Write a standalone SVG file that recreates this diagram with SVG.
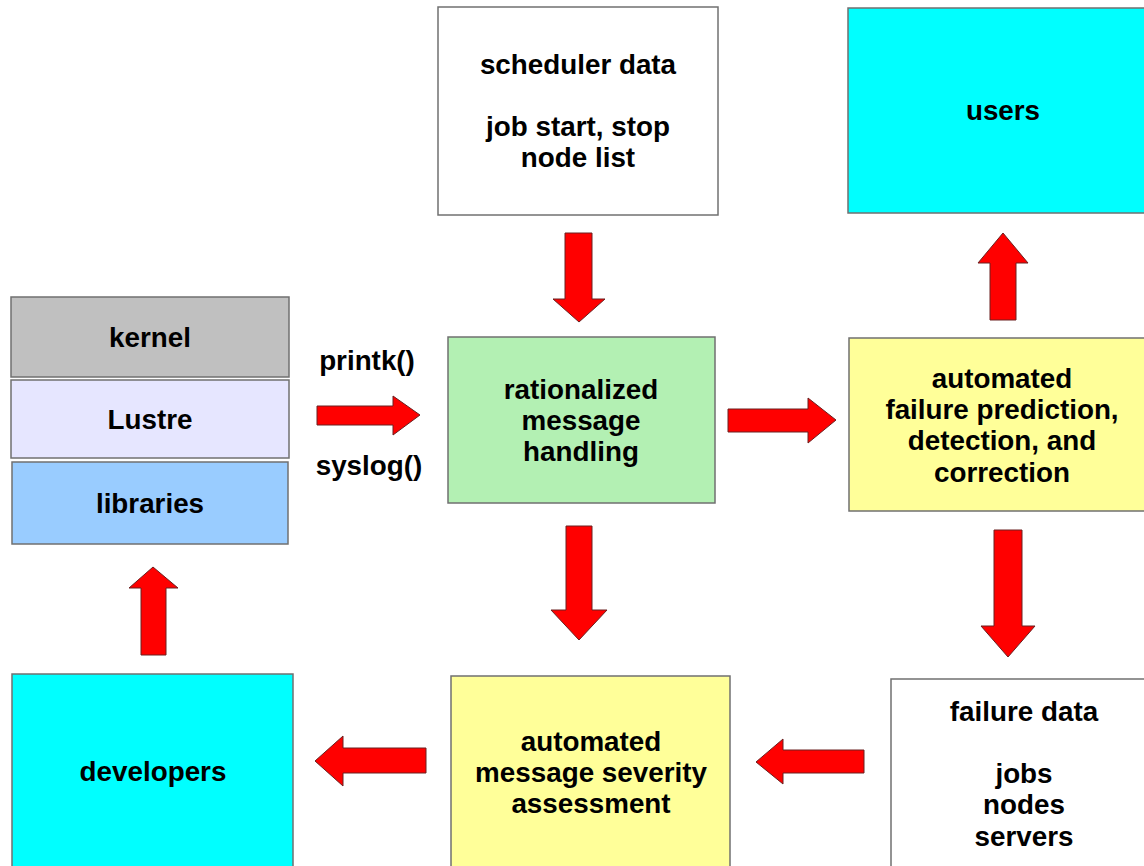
<svg xmlns="http://www.w3.org/2000/svg" width="1144" height="866" viewBox="0 0 1144 866">
<style>
.box{stroke:#707070;stroke-width:1.5}
.t{font-family:"Liberation Sans",Arial,sans-serif;font-weight:bold;font-size:27.8px;fill:#000;text-anchor:middle}
.arr{fill:#ff0000;stroke:#6a2020;stroke-width:1;stroke-linejoin:miter}
</style>
<rect width="1144" height="866" fill="#ffffff"/>
<g id="kernel"><rect class="box" x="11" y="297" width="278" height="80" fill="#c0c0c0"/><text class="t" x="150" y="347">kernel</text></g>
<g id="lustre"><rect class="box" x="11" y="380" width="278" height="78" fill="#e6e6ff"/><text class="t" x="150" y="429">Lustre</text></g>
<g id="libraries"><rect class="box" x="12" y="462" width="276" height="82" fill="#99ccff"/><text class="t" x="150" y="513">libraries</text></g>
<g id="scheduler"><rect class="box" x="438" y="7" width="280" height="208" fill="#ffffff"/><text class="t" x="578" y="74">scheduler data</text><text class="t" x="578" y="136">job start, stop</text><text class="t" x="578" y="167">node list</text></g>
<g id="users"><rect class="box" x="848" y="8" width="300" height="205" fill="#00ffff"/><text class="t" x="1003" y="120">users</text></g>
<g id="rationalized"><rect class="box" x="448" y="337" width="267" height="166" fill="#b3f0b3"/><text class="t" x="581" y="399">rationalized</text><text class="t" x="581" y="430">message</text><text class="t" x="581" y="461">handling</text></g>
<g id="failure-pred"><rect class="box" x="849" y="338" width="300" height="173" fill="#ffff99"/><text class="t" x="1002" y="388">automated</text><text class="t" x="1002" y="419">failure prediction,</text><text class="t" x="1002" y="450">detection, and</text><text class="t" x="1002" y="482">correction</text></g>
<g id="severity"><rect class="box" x="451" y="676" width="279" height="195" fill="#ffff99"/><text class="t" x="591" y="751">automated</text><text class="t" x="591" y="782">message severity</text><text class="t" x="591" y="813">assessment</text></g>
<g id="failure-data"><rect class="box" x="891" y="679" width="258" height="192" fill="#ffffff"/><text class="t" x="1024" y="721">failure data</text><text class="t" x="1024" y="783">jobs</text><text class="t" x="1024" y="814">nodes</text><text class="t" x="1024" y="846">servers</text></g>
<g id="developers"><rect class="box" x="12" y="674" width="281" height="197" fill="#00ffff"/><text class="t" x="153" y="781">developers</text></g>
<g id="labels"><text class="t" x="367" y="370">printk()</text><text class="t" x="369" y="475">syslog()</text></g>
<g id="connectors">
<polygon class="arr" points="317,406 393,406 393,396 420,415 393,435 393,425 317,425"/>
<polygon class="arr" points="565,233 592,233 592,299 605,299 579,322 553,299 565,299"/>
<polygon class="arr" points="990,320 1016,320 1016,263 1028,263 1003,233 978,263 990,263"/>
<polygon class="arr" points="728,409 808,409 808,398 836,420 808,443 808,432 728,432"/>
<polygon class="arr" points="566,526 592,526 592,610 607,610 579,640 551,610 566,610"/>
<polygon class="arr" points="994,530 1022,530 1022,626 1035,626 1008,657 981,626 994,626"/>
<polygon class="arr" points="864,750 783,750 783,739 756,762 783,784 783,773 864,773"/>
<polygon class="arr" points="426,748 343,748 343,736 315,761 343,786 343,773 426,773"/>
<polygon class="arr" points="141,655 166,655 166,588 178,588 153,567 129,588 141,588"/>
</g>
</svg>
